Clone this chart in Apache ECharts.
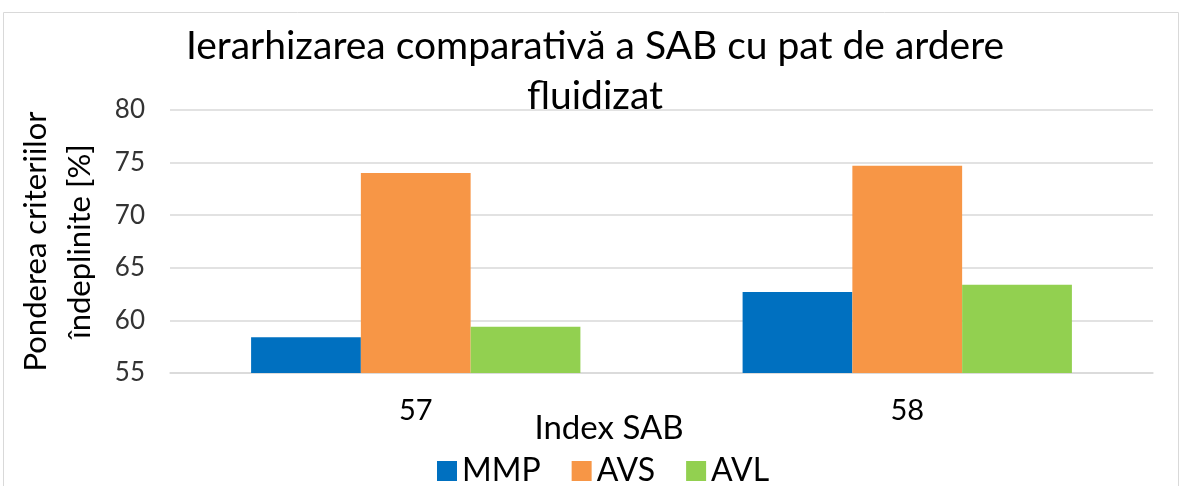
<!DOCTYPE html>
<html>
<head>
<meta charset="utf-8">
<script src="https://cdn.jsdelivr.net/npm/echarts@6/dist/echarts.min.js"></script>
<style>html,body{margin:0;padding:0;background:#fff}#c{width:1186px;height:486px}</style>
</head>
<body>
<div id="c"></div>
<script>
var categories = ['57', '58'];
var seriesNames = ['MMP', 'AVS', 'AVL'];
var mmp = [58.4, 62.7];
var avs = [74.0, 74.7];
var avl = [59.4, 63.4];
var yTicks = [55, 60, 65, 70, 75, 80];

var FONT = 'Lato';
var colors = ['#0070C0', '#F79646', '#92D050'];
var chart = echarts.init(document.getElementById('c'));
chart.setOption({
  animation: false,
  textStyle: { fontFamily: FONT },
  title: {
    text: 'Ierarhizarea comparativă a SAB cu pat de ardere\nfluidizat',
    left: 590, top: 16, textAlign: 'center',
    textStyle: { fontFamily: FONT, fontSize: 39, fontWeight: 'normal', color: '#000', lineHeight: 50 }
  },
  legend: {
    data: seriesNames,
    left: 432, top: 450,
    itemWidth: 20, itemHeight: 20, itemGap: 31,
    icon: 'rect',
    textStyle: { fontFamily: FONT, fontSize: 32, color: '#000', padding: [0, 0, 0, 0] }
  },
  grid: { left: 170, right: 33, top: 110, bottom: 113 },
  xAxis: {
    type: 'category', data: categories,
    axisLine: { lineStyle: { color: '#d9d9d9', width: 1.5 } },
    axisTick: { show: false },
    axisLabel: { fontFamily: FONT, fontSize: 29, color: '#000', margin: 23 }
  },
  yAxis: {
    type: 'value', min: yTicks[0], max: yTicks[yTicks.length - 1], interval: 5,
    name: 'Ponderea criteriilor\nîndeplinite [%]',
    nameLocation: 'middle', nameRotate: 90, nameGap: 68,
    nameTextStyle: { fontFamily: FONT, fontSize: 31, color: '#000', lineHeight: 44 },
    axisLine: { show: false }, axisTick: { show: false },
    axisLabel: { fontFamily: FONT, fontSize: 26, color: '#333', margin: 25 },
    splitLine: { lineStyle: { color: '#d9d9d9', width: 1.5 } }
  },
  graphic: [
    { type: 'rect', shape: { x: 3.5, y: 12.5, width: 1175, height: 490 }, style: { fill: 'none', stroke: '#d9d9d9', lineWidth: 1 }, z: -1 },
    { type: 'text', x: 609, y: 428, style: { text: 'Index SAB', x: 0, y: 0, fontFamily: FONT, fontSize: 33, fill: '#000', align: 'center', verticalAlign: 'middle' } }
  ],
  series: [
    { name: seriesNames[0], type: 'bar', data: mmp, barGap: '0%', barCategoryGap: '33%', itemStyle: { color: colors[0] } },
    { name: seriesNames[1], type: 'bar', data: avs, barGap: '0%', barCategoryGap: '33%', itemStyle: { color: colors[1] } },
    { name: seriesNames[2], type: 'bar', data: avl, barGap: '0%', barCategoryGap: '33%', itemStyle: { color: colors[2] } }
  ]
});
</script>
</body>
</html>
